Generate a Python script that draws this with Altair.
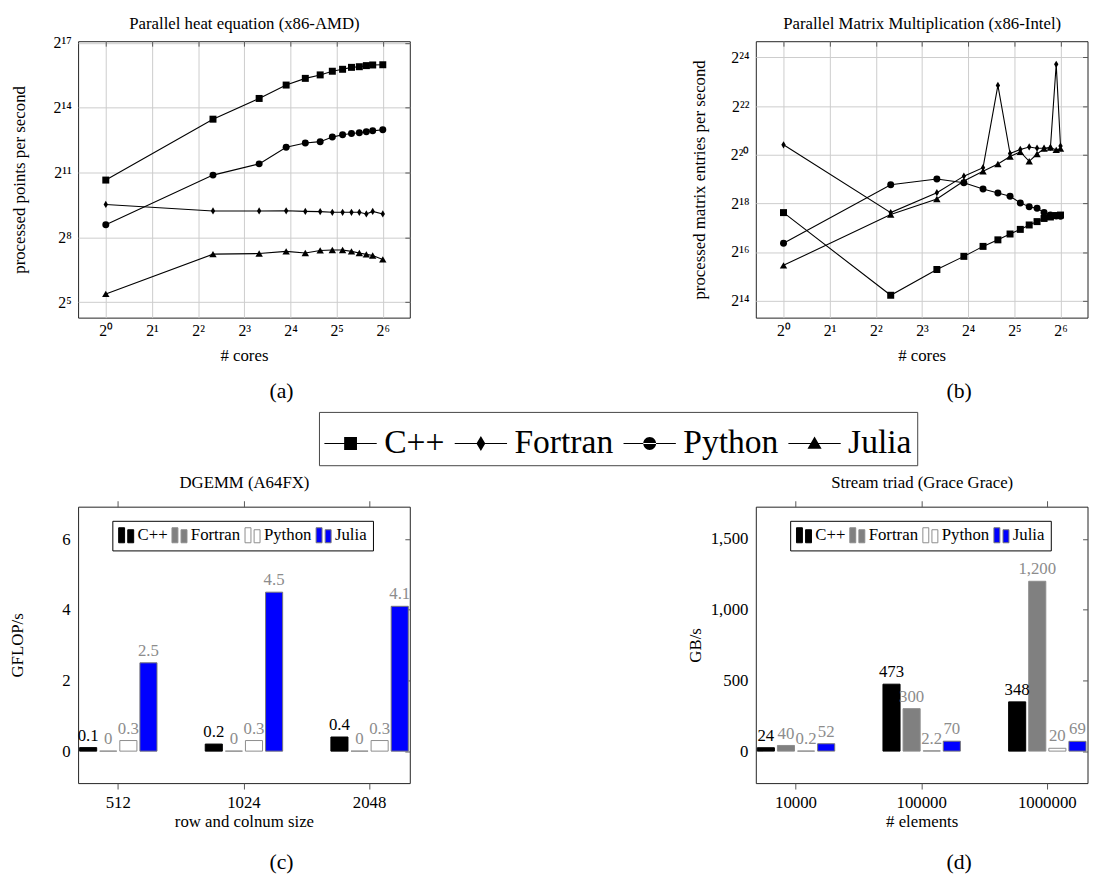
import json
import altair as alt
import pandas as pd

SERIF = "Liberation Serif"
SERIES = ["C++", "Fortran", "Python", "Julia"]

# ---------------- (a) Parallel heat equation (x86-AMD) ----------------
heat_cores = [1, 5, 10, 15, 20, 25, 30, 35, 40, 45, 50, 55, 64]
heat_cpp = [1607, 11346, 22070, 33920, 42050, 46990, 52860, 56270, 59890, 61140, 63300, 64630, 65080]
heat_fortran = [734, 596, 596, 600, 588, 584, 572, 572, 572, 572, 541, 588, 541]
heat_python = [383, 1884, 2703, 4608, 5294, 5518, 6383, 6889, 7181, 7332, 7590, 7803, 8078]
heat_julia = [41.6, 149, 152, 163, 155, 168, 170, 170, 163, 155, 148, 143, 126]

# ---------------- (b) Parallel Matrix Multiplication (x86-Intel) ----------------
mm_cores = [1, 5, 10, 15, 20, 25, 30, 35, 40, 45, 50, 55, 60, 64]
mm_cpp = [201450, 19090, 39790, 57850, 76890, 92680, 109460, 124860, 141590, 155870, 170560, 177830, 185360, 187950]
mm_fortran = [1393400, 201450, 355700, 569900, 726200, 7562000, 1085400, 1221600, 1308600, 1264600, 1264600, 1291000, 13816000, 1345300]
mm_python = [84100, 447000, 524288, 472600, 394600, 353200, 320700, 265800, 237900, 228200, 201450, 187950, 182850, 181550]
mm_julia = [44770, 190580, 297000, 496000, 654300, 805800, 998800, 1139800, 869800, 1070600, 1246900, 1291000, 1204500, 1246900]

# ---------------- (c) DGEMM (A64FX) ----------------
dgemm_sizes = ["512", "1024", "2048"]
dgemm_cpp = [0.1, 0.2, 0.4]
dgemm_fortran = [0, 0, 0]
dgemm_python = [0.3, 0.3, 0.3]
dgemm_julia = [2.5, 4.5, 4.1]

# ---------------- (d) Stream triad (Grace Grace) ----------------
stream_sizes = ["10000", "100000", "1000000"]
stream_cpp = [24, 473, 348]
stream_fortran = [40, 300, 1200]
stream_python = [0.2, 2.2, 20]
stream_julia = [52, 70, 69]

# tick labels
core_tick_exps = [0, 1, 2, 3, 4, 5, 6]
heat_tick_exps = [5, 8, 11, 14, 17]
mm_tick_exps = [14, 16, 18, 20, 22, 24]
dgemm_ticks = [0, 2, 4, 6]
stream_ticks = [0, 500, 1000, 1500]

# ---------------- styling ----------------
PW, PH = 336, 280
GRID = "#cccccc"
FRAME = "#222222"
GRAYTXT = "#8c8c8c"
BAR_FILLS = ["#000000", "#808080", "#ffffff", "#0000ff"]
BAR_STROKES = ["#000000", "#8c8c8c", "#8c8c8c", "#777777"]
LABEL_COLORS = ["#000000", GRAYTXT, GRAYTXT, GRAYTXT]
DIAMOND = "M0,-1L0.6,0L0,1L-0.6,0Z"
MARKS = {"C++": ("square", 50), "Fortran": (DIAMOND, 54), "Python": ("circle", 50), "Julia": ("triangle-up", 56)}
LINE = "M-1,-0.02H1V0.02H-1Z"
LEGEND_PATHS = [
    LINE + "M-0.245,-0.245H0.245V0.245H-0.245Z",
    LINE + "M0,-0.283L0.17,0L0,0.283L-0.17,0Z",
    LINE + "M-0.245,0A0.245,0.245,0,1,0,0.245,0A0.245,0.245,0,1,0,-0.245,0Z",
    LINE + "M0,-0.27L0.27,0.2L-0.27,0.2Z",
]
BAR_SYMBOL = "M-0.95,-0.9H-0.2V1H-0.95Z M0.2,-0.65H0.95V1H0.2Z"

SUP = "⁰¹²³⁴⁵⁶⁷⁸⁹"


def sup(n):
    return "".join(SUP[int(c)] for c in str(n))


def pow2_label_expr(exps):
    vals = [2 ** e for e in exps]
    labs = ["2" + sup(e) for e in exps]
    return "%s[indexof(%s, datum.value)]" % (json.dumps(labs, ensure_ascii=False), json.dumps(vals))


TXT = dict(labelFont=SERIF, titleFont=SERIF, labelColor="black", titleColor="black",
           titleFontWeight="normal", labelOverlap=False)


def long_df(cats, cols, catname):
    rows = []
    for s, vals in zip(SERIES, cols):
        for c, v in zip(cats, vals):
            rows.append({catname: c, "value": v, "series": s})
    return pd.DataFrame(rows)


def caption(text, offset):
    return alt.TitleParams(text=text, orient="bottom", anchor="middle", frame="group", dx=38,
                           offset=offset, fontSize=22, fontWeight="normal", font=SERIF, color="black")


def line_panel(cores, cols, top_title, y_title, y_exps, y_dom, y_title_x, cap, big_legend=False):
    df = long_df(cores, cols, "cores")
    xs = alt.Scale(type="log", base=2, domain=[2 ** -0.6, 2 ** 6.585], nice=False)
    ys = alt.Scale(type="log", base=2, domain=[2 ** y_dom[0], 2 ** y_dom[1]], nice=False)
    xvals = [2 ** e for e in core_tick_exps]
    yvals = [2 ** e for e in y_exps]
    x_axis = alt.Axis(orient="bottom", values=xvals, labelExpr=pow2_label_expr(core_tick_exps),
                      title="# cores", grid=True, gridColor=GRID, ticks=False, domain=False,
                      labelFontSize=16, labelPadding=5, titleFontSize=17, titleY=38,
                      titleBaseline="middle", **TXT)
    y_axis = alt.Axis(orient="left", values=yvals, labelExpr=pow2_label_expr(y_exps),
                      title=y_title, grid=True, gridColor=GRID, ticks=False, domain=False,
                      labelFontSize=16, labelPadding=7, titleFontSize=17, titleX=y_title_x,
                      titleY=PH / 2, titleBaseline="middle", **TXT)
    layers = [alt.Chart(df).mark_line(color="black", strokeWidth=1.1).encode(
        x=alt.X("cores:Q", scale=xs, axis=x_axis),
        y=alt.Y("value:Q", scale=ys, axis=y_axis),
        detail="series:N")]
    for s in SERIES:
        shp, size = MARKS[s]
        layers.append(alt.Chart(df).transform_filter(alt.datum.series == s).mark_point(
            shape=shp, size=size, filled=True, color="black", opacity=1).encode(
            x=alt.X("cores:Q", scale=xs, axis=None),
            y=alt.Y("value:Q", scale=ys, axis=None)))
    top_axis = alt.Axis(orient="top", values=xvals, labels=False, ticks=True, tickSize=5, offset=-5,
                        tickColor="#555555", domain=False, grid=False, title=top_title,
                        titleFontSize=17, titleY=-23.2, titleBaseline="middle", **TXT)
    right_axis = alt.Axis(orient="right", values=yvals, labels=False, ticks=True, tickSize=5, offset=-5,
                          tickColor="#555555", domain=False, grid=False, title=None)
    layers.append(alt.Chart(df).mark_point(opacity=0).encode(
        x=alt.X("cores:Q", scale=xs, axis=top_axis),
        y=alt.Y("value:Q", scale=ys, axis=right_axis)))
    if big_legend:
        layers.append(alt.Chart(df).transform_filter("false").mark_point(
            filled=True, color="black", opacity=1).encode(
            shape=alt.Shape("series:N", scale=alt.Scale(domain=SERIES, range=LEGEND_PATHS),
                            legend=alt.Legend(
                                orient="none", legendX=244, legendY=375.5, direction="horizontal",
                                columns=4, title=None, labelFont=SERIF, labelFontSize=34,
                                labelColor="black", labelOffset=7, columnPadding=8, labelLimit=0,
                                symbolSize=2809, symbolStrokeWidth=0.6, symbolStrokeColor="black",
                                symbolFillColor="black", symbolOpacity=1, padding=5,
                                strokeColor="#444444", fillColor="white"))))
    return alt.layer(*layers).resolve_axis(x="independent", y="independent").properties(
        width=PW, height=PH, title=cap)


def bar_panel(cats, cols, top_title, x_title, y_title, y_dom, y_ticks, y_fmt, y_title_x, legend_x, cap):
    df = long_df(cats, cols, "cat")
    xs = alt.Scale(domain=cats, paddingInner=0.36, paddingOuter=0)
    ys = alt.Scale(domain=y_dom, nice=False, zero=False)
    xo = alt.XOffset("series:N", sort=SERIES,
                     scale=alt.Scale(domain=SERIES, paddingInner=0.15, paddingOuter=0.075))
    x_axis = alt.Axis(orient="bottom", labelAngle=0, ticks=True, tickSize=6, tickColor="#555555",
                      domain=False, grid=False, labelFontSize=17, labelPadding=6, title=x_title,
                      titleFontSize=17, titleY=39.3, titleBaseline="middle", **TXT)
    y_axis = alt.Axis(orient="left", values=y_ticks, format=y_fmt, ticks=False, domain=False,
                      grid=False, labelFontSize=17, labelPadding=8, title=y_title, titleFontSize=17,
                      titleX=y_title_x, titleY=PH / 2, titleBaseline="middle", **TXT)
    bars = alt.Chart(df).mark_bar(strokeWidth=1).encode(
        x=alt.X("cat:N", sort=cats, scale=xs, axis=x_axis),
        xOffset=xo,
        y=alt.Y("value:Q", scale=ys, axis=y_axis),
        fill=alt.Fill("series:N", scale=alt.Scale(domain=SERIES, range=BAR_FILLS),
                      legend=alt.Legend(orient="none", legendX=legend_x, legendY=14.3,
                                        direction="horizontal", columns=4, title=None,
                                        symbolType=BAR_SYMBOL, symbolSize=256,
                                        symbolStrokeColor="#7f7f7f", symbolStrokeWidth=1,
                                        labelFont=SERIF, labelFontSize=17, labelColor="black",
                                        labelOffset=3, columnPadding=1, padding=5.5,
                                        strokeColor="black", fillColor="white", labelLimit=0)),
        stroke=alt.Stroke("series:N", scale=alt.Scale(domain=SERIES, range=BAR_STROKES), legend=None))
    labels = alt.Chart(df).mark_text(baseline="bottom", dy=-3, font=SERIF, fontSize=17).encode(
        x=alt.X("cat:N", sort=cats, scale=xs, axis=None),
        xOffset=xo,
        y=alt.Y("value:Q", scale=ys, axis=None),
        text=alt.Text("value:Q", format=","),
        color=alt.Color("series:N", scale=alt.Scale(domain=SERIES, range=LABEL_COLORS), legend=None))
    top_axis = alt.Axis(orient="top", labels=False, ticks=True, tickSize=6, tickColor="#555555",
                        domain=False, grid=False, title=top_title, titleFontSize=17, titleY=-24,
                        titleBaseline="middle", **TXT)
    right_axis = alt.Axis(orient="right", values=y_ticks, labels=False, ticks=True, tickSize=5,
                          offset=-5, tickColor="#555555", domain=False, grid=False, title=None)
    ticks = alt.Chart(df).mark_point(opacity=0).encode(
        x=alt.X("cat:N", sort=cats, scale=xs, axis=top_axis),
        y=alt.Y("value:Q", scale=ys, axis=right_axis))
    return alt.layer(bars, labels, ticks).resolve_axis(x="independent", y="independent").properties(
        width=PW, height=PH, title=cap)


pa = line_panel(heat_cores, [heat_cpp, heat_fortran, heat_python, heat_julia],
                "Parallel heat equation (x86-AMD)", "processed points per second",
                heat_tick_exps, (4.28, 17.08), -59, caption("(a)", 18.8), big_legend=True)
pb = line_panel(mm_cores, [mm_cpp, mm_fortran, mm_python, mm_julia],
                "Parallel Matrix Multiplication (x86-Intel)", "processed matrix entries per second",
                mm_tick_exps, (13.30, 24.67), -56.8, caption("(b)", 18.8))
pc = bar_panel(dgemm_sizes, [dgemm_cpp, dgemm_fortran, dgemm_python, dgemm_julia],
               "DGEMM (A64FX)", "row and colnum size", "GFLOP/s", [-0.905, 6.92], dgemm_ticks, "d",
               -61, 34.7, caption("(c)", 23))
pd_ = bar_panel(stream_sizes, [stream_cpp, stream_fortran, stream_python, stream_julia],
                "Stream triad (Grace Grace)", "# elements", "GB/s", [-226, 1727], stream_ticks, ",d",
                -60.8, 34.8, caption("(d)", 23))

chart = alt.concat(pa, pb, pc, pd_, columns=2, spacing={"row": 191.5, "column": 350.5},
                   bounds="flush").resolve_scale(
    fill="independent", stroke="independent", color="independent", xOffset="independent",
    x="independent", y="independent"
).properties(
    padding={"left": 0, "top": 0, "right": 0, "bottom": 0}
).configure(font=SERIF).configure_view(stroke=FRAME, strokeWidth=1)

chart.save("out.html", embed_options={"renderer": "svg", "actions": False})
